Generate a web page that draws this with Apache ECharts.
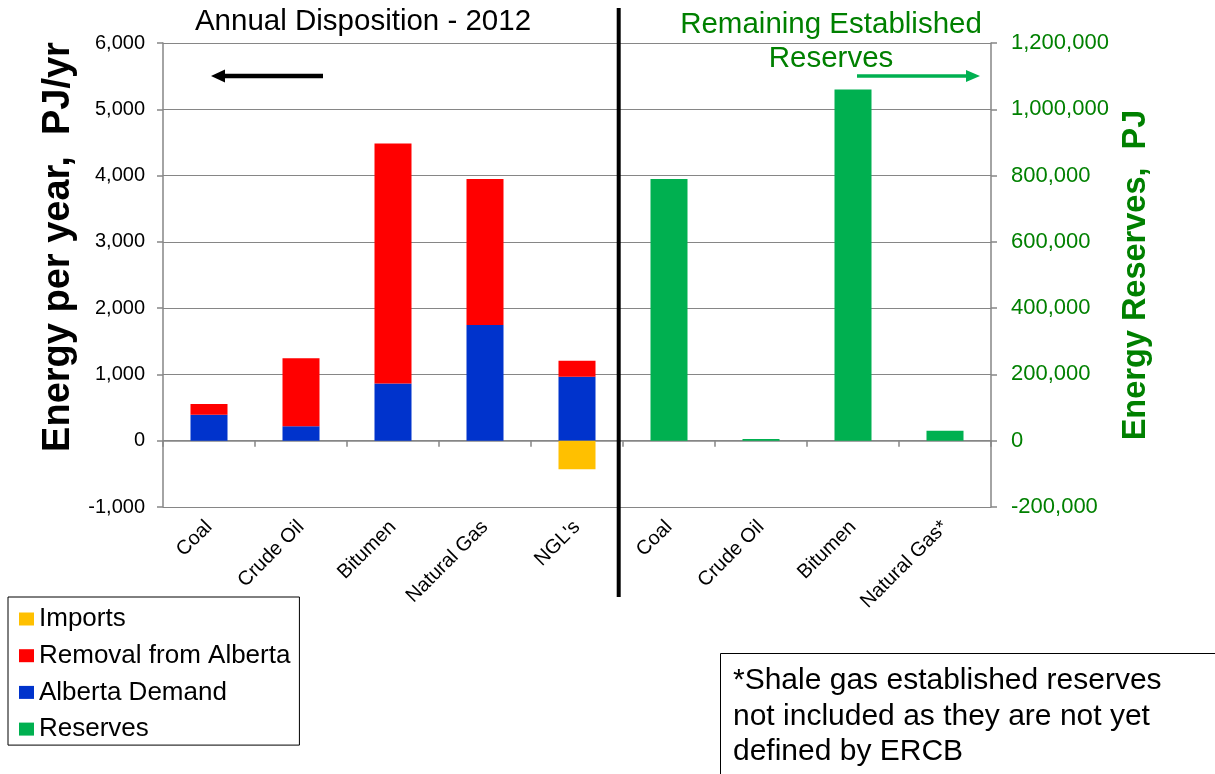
<!DOCTYPE html>
<html>
<head>
<meta charset="utf-8">
<script src="https://cdn.jsdelivr.net/npm/echarts@6/dist/echarts.min.js"></script>
<style>
  html, body { margin: 0; padding: 0; background: #fff; }
  #chart { width: 1215px; height: 774px; }
</style>
</head>
<body>
<div id="chart"></div>
<script>
// Alberta energy: annual disposition (PJ/yr, left axis) and remaining established reserves (PJ, right axis)
const categories = ['Coal', 'Crude Oil', 'Bitumen', 'Natural Gas', "NGL's", 'Coal', 'Crude Oil', 'Bitumen', 'Natural Gas*'];

const albertaDemand      = [390, 220, 865, 1745, 965, null, null, null, null];
const removalFromAlberta = [165, 1025, 3620, 2205, 240, null, null, null, null];
const imports            = [null, null, null, null, -430, null, null, null, null];
const reserves           = [null, null, null, null, null, 790000, 5000, 1060000, 30000];

const leftAxisRange  = { min: -1000, max: 6000, step: 1000 };
const rightAxisRange = { min: -200000, max: 1200000, step: 200000 };

const seriesNames = ['Imports', 'Removal from Alberta', 'Alberta Demand', 'Reserves'];

const FONT = "'Liberation Sans', Arial, sans-serif";
const GREEN_TEXT = '#008000';
const AXIS_GRAY = '#868686';
const COLORS = { imports: '#ffc000', removal: '#ff0000', demand: '#0033cc', reserves: '#00b050' };

const fmt = v => Number(v).toLocaleString('en-US');

const chart = echarts.init(document.getElementById('chart'), null, { renderer: 'canvas' });

const option = {
  backgroundColor: '#fff',
  animation: false,
  textStyle: { fontFamily: FONT },
  grid: { left: 163, right: 224, top: 43, bottom: 267, containLabel: false },
  legend: {
    data: seriesNames,
    orient: 'vertical',
    left: 8,
    top: 597,
    padding: [9, 9, 3, 11],
    itemGap: 10.7,
    itemWidth: 15,
    itemHeight: 13,
    icon: 'rect',
    selectedMode: false,
    borderColor: '#000',
    borderWidth: 1,
    textStyle: { fontFamily: FONT, fontSize: 26, color: '#000' }
  },
  xAxis: [
    {
      // labels along the bottom edge of the plot
      type: 'category',
      data: categories,
      position: 'bottom',
      axisLine: { show: false, onZero: false },
      axisTick: { show: false },
      axisLabel: { interval: 0, rotate: 45, margin: 17, fontFamily: FONT, fontSize: 20, color: '#000' },
      splitLine: { show: false }
    },
    {
      // baseline at zero with category separators
      type: 'category',
      data: categories,
      position: 'bottom',
      axisLine: { show: true, onZero: true, lineStyle: { color: AXIS_GRAY, width: 1.5 } },
      axisTick: { show: true, length: 6, lineStyle: { color: AXIS_GRAY, width: 1.5 } },
      axisLabel: { show: false },
      splitLine: { show: false }
    }
  ],
  yAxis: [
    {
      type: 'value',
      position: 'left',
      min: leftAxisRange.min,
      max: leftAxisRange.max,
      interval: leftAxisRange.step,
      name: 'Energy per year,  PJ/yr',
      nameLocation: 'middle',
      nameRotate: 90,
      nameGap: 77,
      nameTextStyle: { fontFamily: FONT, fontSize: 38, fontWeight: 'bold', color: '#000', padding: [0, 0, 0, 56] },
      axisLine: { show: true, lineStyle: { color: AXIS_GRAY, width: 1.5 } },
      axisTick: { show: true, length: 6, lineStyle: { color: AXIS_GRAY, width: 1.5 } },
      axisLabel: { formatter: fmt, margin: 18, fontFamily: FONT, fontSize: 20, color: '#000' },
      splitLine: { show: true, lineStyle: { color: AXIS_GRAY, width: 1 } }
    },
    {
      type: 'value',
      position: 'right',
      min: rightAxisRange.min,
      max: rightAxisRange.max,
      interval: rightAxisRange.step,
      name: 'Energy Reserves,  PJ',
      nameLocation: 'middle',
      nameRotate: 90,
      nameGap: 122,
      nameTextStyle: { fontFamily: FONT, fontSize: 32.5, fontWeight: 'bold', color: GREEN_TEXT },
      axisLine: { show: true, lineStyle: { color: AXIS_GRAY, width: 1.5 } },
      axisTick: { show: true, length: 6, lineStyle: { color: AXIS_GRAY, width: 1.5 } },
      axisLabel: { formatter: fmt, margin: 20, fontFamily: FONT, fontSize: 22, color: GREEN_TEXT },
      splitLine: { show: false }
    }
  ],
  series: [
    {
      name: 'Alberta Demand', type: 'bar', stack: 'disposition', xAxisIndex: 0, yAxisIndex: 0,
      barWidth: 37, barGap: '-100%', data: albertaDemand,
      itemStyle: { color: COLORS.demand }
    },
    {
      name: 'Removal from Alberta', type: 'bar', stack: 'disposition', xAxisIndex: 0, yAxisIndex: 0,
      barWidth: 37, barGap: '-100%', data: removalFromAlberta,
      itemStyle: { color: COLORS.removal }
    },
    {
      name: 'Imports', type: 'bar', stack: 'disposition', xAxisIndex: 0, yAxisIndex: 0,
      barWidth: 37, barGap: '-100%', data: imports,
      itemStyle: { color: COLORS.imports }
    },
    {
      name: 'Reserves', type: 'bar', stack: 'reserves', xAxisIndex: 0, yAxisIndex: 1,
      barWidth: 37, barGap: '-100%', data: reserves,
      itemStyle: { color: COLORS.reserves }
    }
  ],
  graphic: [
    // panel titles
    {
      type: 'text', z: 10, position: [363, 22],
      style: { text: 'Annual Disposition - 2012', font: `29.5px ${FONT}`, fill: '#000', textAlign: 'center', textVerticalAlign: 'middle' }
    },
    {
      type: 'text', z: 10, position: [831, 42],
      style: { text: 'Remaining Established\nReserves', font: `29.5px ${FONT}`, fill: GREEN_TEXT, textAlign: 'center', textVerticalAlign: 'middle', lineHeight: 34 }
    },
    // divider between the two panels
    {
      type: 'line', z: 10,
      shape: { x1: 618.7, y1: 8, x2: 618.7, y2: 597 },
      style: { stroke: '#000', lineWidth: 4 }
    },
    // arrow pointing to the left-hand axis
    {
      type: 'line', z: 10,
      shape: { x1: 323, y1: 76, x2: 222, y2: 76 },
      style: { stroke: '#000', lineWidth: 4.5 }
    },
    {
      type: 'polygon', z: 10,
      shape: { points: [[211, 76], [225, 69.5], [225, 82.5]] },
      style: { fill: '#000' }
    },
    // arrow pointing to the right-hand axis
    {
      type: 'line', z: 10,
      shape: { x1: 857, y1: 76, x2: 968, y2: 76 },
      style: { stroke: COLORS.reserves, lineWidth: 3.5 }
    },
    {
      type: 'polygon', z: 10,
      shape: { points: [[980, 76], [966, 70], [966, 82]] },
      style: { fill: COLORS.reserves }
    },
    // footnote box
    {
      type: 'rect', z: 10,
      shape: { x: 720.5, y: 653.5, width: 600, height: 200 },
      style: { fill: '#fff', stroke: '#000', lineWidth: 1 }
    },
    {
      type: 'text', z: 11, position: [733, 663],
      style: {
        text: '*Shale gas established reserves\nnot included as they are not yet\ndefined by ERCB',
        font: `30px ${FONT}`, fill: '#000', textAlign: 'left', textVerticalAlign: 'top', lineHeight: 35.5
      }
    }
  ]
};

chart.setOption(option);
</script>
</body>
</html>
